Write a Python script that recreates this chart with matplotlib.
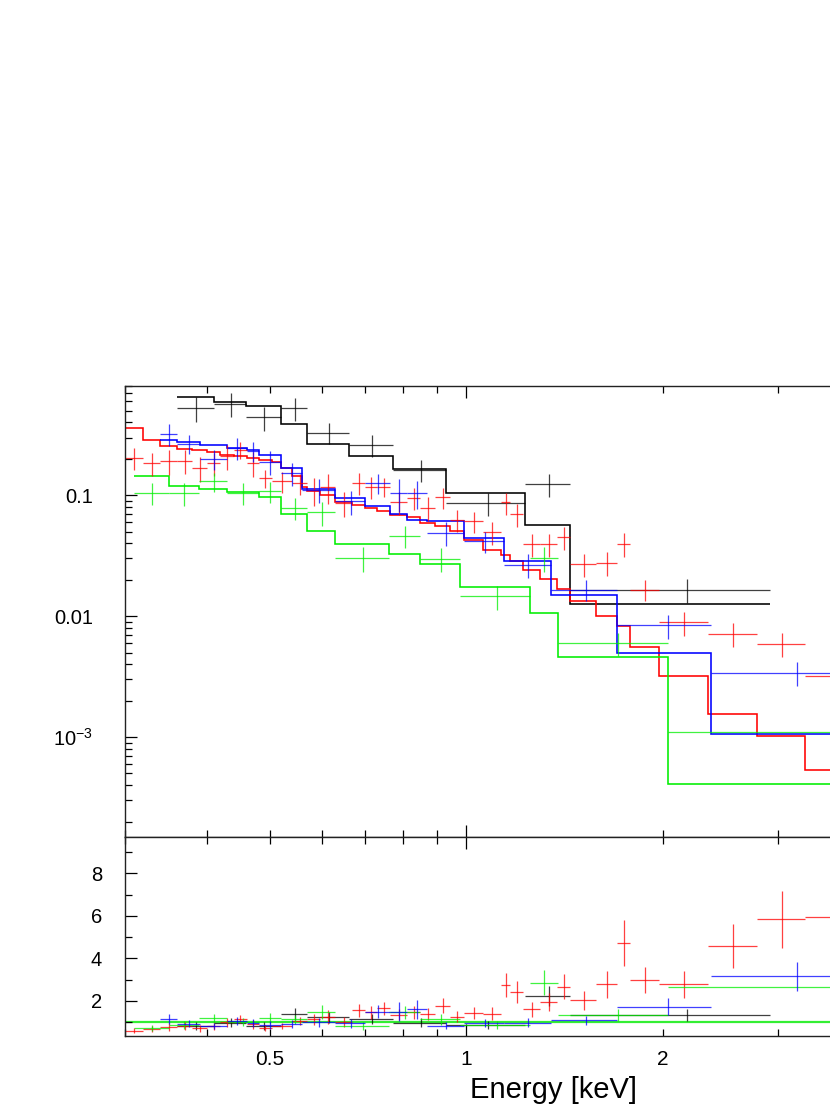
import numpy as np
import matplotlib
matplotlib.use('Agg')
import matplotlib.pyplot as plt
from matplotlib.ticker import LogLocator, FuncFormatter, NullFormatter, MultipleLocator

plt.rcParams['font.family'] = ['Liberation Sans', 'DejaVu Sans']
plt.rcParams['mathtext.fontset'] = 'custom'
plt.rcParams['mathtext.rm'] = 'Liberation Sans'
plt.rcParams['mathtext.default'] = 'regular'

# ---- black data set ----
blk_lo = [0.3606, 0.4102, 0.4603, 0.5207, 0.5702, 0.6612, 0.7722, 0.9297, 1.231, 1.443]
blk_hi = [0.4102, 0.4603, 0.5207, 0.5702, 0.6612, 0.7722, 0.9297, 1.231, 1.443, 2.913]
blk_flux = [0.526, 0.570, 0.440, 0.526, 0.330, 0.260, 0.162, 0.0862, 0.124, 0.01656]
blk_err = [0.12, 0.125, 0.10, 0.113, 0.065, 0.053, 0.034, 0.019, 0.027, 0.0038]
blk_ratio = [0.82, 0.97, 0.82, 1.37, 1.22, 1.15, 0.97, 0.85, 2.22, 1.33]
blk_rerr = [0.19, 0.21, 0.18, 0.29, 0.25, 0.25, 0.20, 0.18, 0.47, 0.30]
blk_edges = [0.3606, 0.4102, 0.4603, 0.5207, 0.5702, 0.6612, 0.7722, 0.9297, 1.231, 1.443, 2.913]
blk_model = [0.648, 0.585, 0.542, 0.388, 0.265, 0.211, 0.1656, 0.1042, 0.0563, 0.01262]

# ---- red data set ----
red_lo = [0.3004, 0.3197, 0.3399, 0.3606, 0.3802, 0.4009, 0.4201, 0.4400, 0.4614, 0.4807,
          0.5040, 0.5408, 0.5702, 0.5976, 0.6301, 0.6683, 0.7004, 0.7299, 0.7648, 0.8113,
          0.8503, 0.8965, 0.9452, 0.9906, 1.061, 1.130, 1.168, 1.219, 1.298, 1.377,
          1.443, 1.581, 1.701, 1.779, 1.970, 2.342, 2.781, 3.297]
red_hi = [0.3197, 0.3399, 0.3606, 0.3802, 0.4009, 0.4201, 0.4400, 0.4614, 0.4807, 0.5040,
          0.5408, 0.5702, 0.5976, 0.6301, 0.6683, 0.7004, 0.7299, 0.7648, 0.8113, 0.8503,
          0.8965, 0.9452, 0.9906, 1.061, 1.130, 1.168, 1.219, 1.298, 1.377, 1.443,
          1.581, 1.701, 1.779, 1.970, 2.342, 2.781, 3.297, 5.6]
red_flux = [0.205, 0.185, 0.193, 0.193, 0.168, 0.185, 0.212, 0.238, 0.185, 0.138,
            0.130, 0.125, 0.111, 0.118, 0.0862, 0.126, 0.117, 0.118, 0.0872, 0.0953,
            0.0784, 0.0959, 0.0627, 0.0607, 0.0493, 0.0872, 0.0699, 0.0395, 0.0395, 0.0451,
            0.0270, 0.0275, 0.0395, 0.01656, 0.00889, 0.00713, 0.00593, 0.00322]
red_err = [0.043, 0.040, 0.045, 0.043, 0.040, 0.040, 0.050, 0.037, 0.044, 0.023,
           0.025, 0.025, 0.029, 0.033, 0.020, 0.026, 0.024, 0.022, 0.019, 0.020,
           0.0175, 0.019, 0.013, 0.0124, 0.0102, 0.018, 0.015, 0.0084, 0.0084, 0.010,
           0.0059, 0.0062, 0.0089, 0.0033, 0.0020, 0.0016, 0.00135, 0.0008]
red_ratio = [0.59, 0.68, 0.78, 0.80, 0.70, 0.82, 0.98, 1.14, 0.90, 0.72,
             0.82, 1.05, 1.12, 1.22, 0.99, 1.56, 1.45, 1.64, 1.35, 1.45,
             1.38, 1.77, 1.25, 1.41, 1.40, 2.74, 2.42, 1.61, 1.95, 2.66,
             2.03, 2.77, 4.73, 2.98, 2.77, 4.58, 5.83, 5.93]
red_rerr = [0.12, 0.14, 0.18, 0.18, 0.17, 0.18, 0.23, 0.18, 0.21, 0.12,
            0.15, 0.20, 0.27, 0.33, 0.23, 0.31, 0.31, 0.30, 0.27, 0.30,
            0.30, 0.35, 0.25, 0.29, 0.29, 0.57, 0.53, 0.35, 0.42, 0.59,
            0.45, 0.62, 1.08, 0.60, 0.62, 1.02, 1.33, 1.40]
red_edges = [0.29, 0.3197, 0.3399, 0.3606, 0.3802, 0.4009, 0.4201, 0.4400, 0.4614, 0.4807,
             0.5040, 0.5207, 0.5408, 0.5603, 0.5702, 0.5976, 0.6301, 0.6683, 0.7004, 0.7299,
             0.7648, 0.8113, 0.8503, 0.8965, 0.9452, 0.9906, 1.061, 1.130, 1.168, 1.219,
             1.298, 1.377, 1.443, 1.581, 1.701, 1.779, 1.970, 2.342, 2.781, 3.297, 5.6]
red_model = [0.359, 0.284, 0.253, 0.242, 0.238, 0.226, 0.216, 0.209, 0.205, 0.197,
             0.190, 0.168, 0.143, 0.118, 0.1075, 0.101, 0.0872, 0.0823, 0.0784, 0.0745,
             0.069, 0.0655, 0.0589, 0.0552, 0.0509, 0.0429, 0.0354, 0.0318, 0.0284, 0.0242,
             0.0203, 0.0169, 0.01325, 0.00996, 0.00823, 0.00552, 0.00318, 0.00154, 0.00102, 0.000539]

# ---- blue data set ----
blu_lo = [0.3399, 0.3606, 0.3905, 0.4300, 0.4614, 0.4807, 0.5207, 0.5603, 0.6301, 0.7004,
          0.7648, 0.8113, 0.8706, 0.9906, 1.141, 1.345, 1.701, 2.370]
blu_hi = [0.3606, 0.3905, 0.4300, 0.4614, 0.4807, 0.5207, 0.5603, 0.6301, 0.7004, 0.7648,
          0.8113, 0.8706, 0.9906, 1.141, 1.345, 1.701, 2.370, 4.05]
blu_flux = [0.3205, 0.265, 0.199, 0.2455, 0.233, 0.190, 0.1526, 0.111, 0.0889, 0.126,
            0.1043, 0.1043, 0.0487, 0.0415, 0.0267, 0.01656, 0.0084, 0.0034]
blu_err = [0.067, 0.047, 0.037, 0.050, 0.044, 0.042, 0.033, 0.024, 0.020, 0.024,
           0.031, 0.028, 0.011, 0.0085, 0.006, 0.0032, 0.0019, 0.00078]
blu_ratio = [1.14, 0.93, 0.80, 1.05, 0.97, 0.85, 0.91, 0.98, 0.94, 1.48,
             1.48, 1.60, 0.83, 0.95, 0.96, 1.09, 1.72, 3.16]
blu_rerr = [0.24, 0.17, 0.14, 0.20, 0.19, 0.20, 0.20, 0.22, 0.21, 0.30,
            0.45, 0.45, 0.18, 0.19, 0.21, 0.21, 0.39, 0.69]
blu_edges = [0.3399, 0.3606, 0.3905, 0.4300, 0.4614, 0.4807, 0.5207, 0.5603, 0.6301, 0.7004,
             0.7648, 0.8113, 0.8706, 0.9906, 1.141, 1.345, 1.701, 2.370, 4.05]
blu_model = [0.284, 0.2755, 0.2579, 0.2455, 0.2346, 0.2161, 0.1678, 0.112, 0.0948, 0.081,
             0.0699, 0.0627, 0.0607, 0.0443, 0.0284, 0.01506, 0.00496, 0.00107]

# ---- green data set ----
grn_lo = [0.3101, 0.3499, 0.3901, 0.4300, 0.4807, 0.5207, 0.5702, 0.6301, 0.7603, 0.8503,
          0.9791, 1.250, 1.380, 2.034]
grn_hi = [0.3499, 0.3901, 0.4300, 0.4807, 0.5207, 0.5702, 0.6301, 0.7603, 0.8503, 0.9791,
          1.250, 1.380, 2.034, 5.6]
grn_flux = [0.1043, 0.1043, 0.130, 0.1043, 0.1075, 0.0784, 0.0721, 0.0303, 0.0463, 0.0299,
            0.01458, 0.0303, 0.0060, 0.001096]
grn_err = [0.022, 0.023, 0.024, 0.021, 0.022, 0.016, 0.016, 0.0071, 0.0097, 0.0068,
           0.0033, 0.0071, 0.0013, 0.00025]
grn_ratio = [0.72, 0.87, 1.17, 0.99, 1.20, 1.12, 1.46, 0.80, 1.45, 1.13,
             0.85, 2.85, 1.33, 2.66]
grn_rerr = [0.15, 0.19, 0.21, 0.20, 0.23, 0.23, 0.32, 0.18, 0.30, 0.25,
            0.19, 0.60, 0.29, 0.60]
grn_edges = [0.3101, 0.3499, 0.3901, 0.4300, 0.4807, 0.5207, 0.5702, 0.6301, 0.7603, 0.8503,
             0.9791, 1.250, 1.380, 2.034, 5.6]
grn_model = [0.143, 0.1198, 0.1125, 0.1055, 0.0966, 0.0699, 0.0502, 0.0397, 0.0328, 0.0272,
             0.0174, 0.01063, 0.0046, 0.000413]

fig = plt.figure(figsize=(8.3, 11.17), dpi=100)
# the plot runs off the right edge of the page, like the reference
ax1 = fig.add_axes([0.1506, 0.25094, 1.0236, 0.40349])
ax2 = fig.add_axes([0.1506, 0.07279, 1.0236, 0.17816], sharex=ax1)


def crosses(ax, lo, hi, y, yerr, color):
    lo = np.array(lo)
    hi = np.array(hi)
    x = (lo + hi) / 2
    ax.errorbar(x, y, xerr=[x - lo, hi - x], yerr=yerr, fmt='none',
                ecolor=color, elinewidth=0.9, capsize=0, alpha=0.75)


sets = [
    (blk_lo, blk_hi, blk_flux, blk_err, blk_ratio, blk_rerr, blk_edges, blk_model, 'black'),
    (red_lo, red_hi, red_flux, red_err, red_ratio, red_rerr, red_edges, red_model, '#ff0000'),
    (grn_lo, grn_hi, grn_flux, grn_err, grn_ratio, grn_rerr, grn_edges, grn_model, '#00ee00'),
    (blu_lo, blu_hi, blu_flux, blu_err, blu_ratio, blu_rerr, blu_edges, blu_model, '#0000ff'),
]

for lo, hi, f, fe, r, re, edges, model, c in sets:
    crosses(ax1, lo, hi, f, fe, c)
    crosses(ax2, lo, hi, r, re, c)
for lo, hi, f, fe, r, re, edges, model, c in sets:
    ax1.stairs(model, edges, color=c, lw=1.15, baseline=None)

ax2.axhline(1.0, color='#33ee33', lw=1.6, zorder=1)

ax1.set_xscale('log')
ax1.set_yscale('log')
ax1.set_xlim(0.3, 6)
ax1.set_ylim(1.5e-4, 0.80)
ax2.set_ylim(0.356, 9.73)


def xfmt(v, pos):
    for lab in (0.5, 1, 2):
        if abs(v - lab) < 1e-6:
            return '%g' % lab
    return ''


def yfmt(v, pos):
    if v >= 0.01:
        return '%g' % v
    return '10$^{%d}$' % round(np.log10(v))


for ax in (ax1, ax2):
    ax.xaxis.set_major_locator(LogLocator(base=10, subs=(1.0,)))
    ax.xaxis.set_minor_locator(LogLocator(base=10, subs=np.arange(2, 10), numticks=20))
    ax.tick_params(which='both', direction='in', top=True, right=True, width=0.9)
    ax.tick_params(which='major', length=8.6)
    ax.tick_params(which='minor', length=5)
    for s in ax.spines.values():
        s.set_linewidth(1.0)
        s.set_color('#222222')

ax1.yaxis.set_major_locator(LogLocator(base=10, numticks=10))
ax1.yaxis.set_minor_locator(LogLocator(base=10, subs=np.arange(2, 10), numticks=20))
ax1.yaxis.set_major_formatter(FuncFormatter(yfmt))
ax1.yaxis.set_minor_formatter(NullFormatter())
ax1.tick_params(axis='x', which='both', labelbottom=False)
ax1.tick_params(axis='y', labelsize=14.5, pad=23)

ax2.yaxis.set_major_locator(MultipleLocator(2))
ax2.yaxis.set_minor_locator(MultipleLocator(1))
ax2.xaxis.set_major_formatter(FuncFormatter(xfmt))
ax2.xaxis.set_minor_formatter(FuncFormatter(xfmt))
ax2.tick_params(axis='y', labelsize=14.5, pad=16.5)
ax2.tick_params(axis='x', which='both', labelsize=15, pad=10)

fig.text(554 / 830, 1 - 1098 / 1117, 'Energy [keV]', fontsize=21,
         ha='center', va='baseline')

fig.savefig('out.png', dpi=100)
